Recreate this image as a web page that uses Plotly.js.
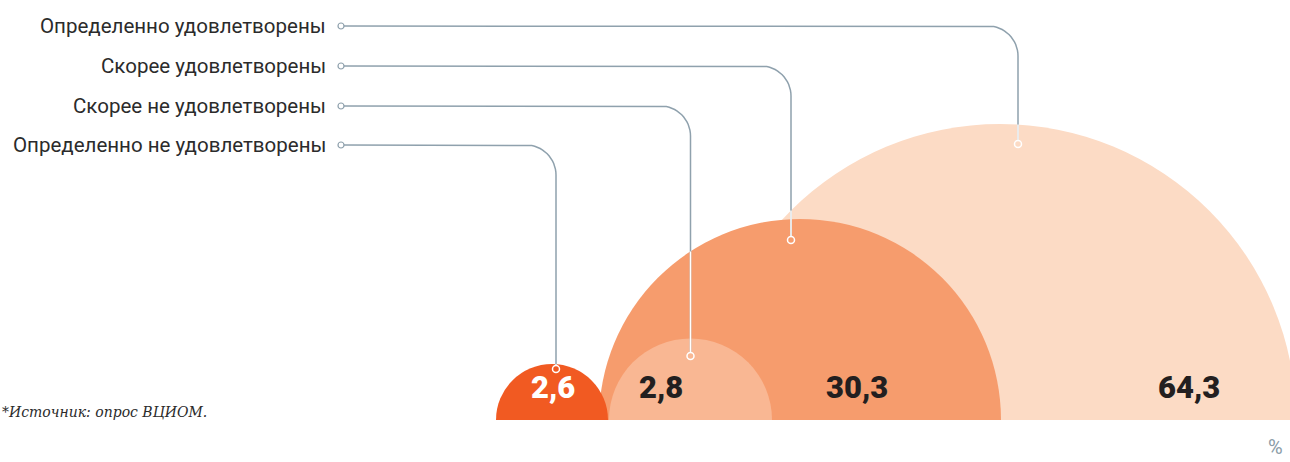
<!DOCTYPE html>
<html>
<head>
<meta charset="utf-8">
<script src="https://cdn.plot.ly/plotly-3.0.1.min.js"></script>
<style>
  html, body { margin: 0; padding: 0; background: #ffffff; }
  #chart { width: 1290px; height: 462px; }
</style>
</head>
<body>
<div id="chart"></div>
<script>
// ---------- DATA ----------
const categories = [
  "Определенно удовлетворены",
  "Скорее удовлетворены",
  "Скорее не удовлетворены",
  "Определенно не удовлетворены"
];
const values = [64.3, 30.3, 2.8, 2.6];
const sourceNote = "*Источник: опрос ВЦИОМ.";
const unitLabel = "%";

// ---------- GEOMETRY & STYLE (pixel-like data units, baseline at y = 0) ----------
const W = 1290, H = 462, BASE = 420;
const circleCx   = [1000, 800, 690.5, 552];
const circleR    = [296, 201, 81.5, 56];
const fills      = ["#FCDBC5", "#F69C6D", "#F9B793", "#F15A22"];
const numX       = [1189, 857, 661, 553];
const numColor   = ["#231F20", "#231F20", "#231F20", "#FFFFFF"];
const rowY       = [26, 66, 106, 145];          // label rows, px from top
const stemX      = [1018, 791, 690.5, 556];     // vertical leader x
const endY       = [144, 240, 356, 369];        // leader end points, px from top
const labelRight = 328, dotX = 341, cornerR = 30;
const grey = "#8FA1AD";

const up = py => BASE - py;   // convert px-from-top to axis units

// semicircle shapes (clipped by plot area at the baseline)
const shapes = values.map((v, i) => ({
  type: "circle", xref: "x", yref: "y", layer: "below",
  x0: circleCx[i] - circleR[i], x1: circleCx[i] + circleR[i],
  y0: -circleR[i], y1: circleR[i],
  fillcolor: fills[i], line: { width: 0 }
}));

// leader lines
const traces = [];
function heightAt(x) {
  let h = 0;
  for (let i = 0; i < circleCx.length; i++) {
    const dx = x - circleCx[i];
    if (Math.abs(dx) < circleR[i]) h = Math.max(h, Math.sqrt(circleR[i] ** 2 - dx * dx));
  }
  return h;
}
categories.forEach((c, i) => {
  const y0 = up(rowY[i]), vx = stemX[i], yEnd = up(endY[i]);
  const xs = [dotX + 3], ys = [y0];
  const ccx = vx - cornerR, ccy = y0 - cornerR;
  for (let k = 0; k <= 16; k++) {
    const t = Math.PI / 2 - (Math.PI / 2) * k / 16;
    xs.push(ccx + cornerR * Math.cos(t));
    ys.push(ccy + cornerR * Math.sin(t));
  }
  xs.push(vx); ys.push(yEnd + 3);
  traces.push({ x: xs, y: ys, mode: "lines", line: { color: grey, width: 1.5 },
    hoverinfo: "skip", showlegend: false });
  const h = heightAt(vx);
  traces.push({ x: [vx, vx], y: [Math.min(h, y0 - cornerR), yEnd + 3], mode: "lines",
    line: { color: "#FFFFFF", width: 1.5 }, hoverinfo: "skip", showlegend: false });
  traces.push({ x: [vx], y: [yEnd], mode: "markers",
    marker: { symbol: "circle-open", size: 7, color: "#FFFFFF", line: { width: 1.5, color: "#FFFFFF" } },
    hoverinfo: "skip", showlegend: false });
  traces.push({ x: [dotX], y: [y0], mode: "markers",
    marker: { symbol: "circle-open", size: 6, color: grey, line: { width: 1.2, color: grey } },
    hoverinfo: "skip", showlegend: false });
});

const annotations = [];
categories.forEach((c, i) => {
  annotations.push({ x: labelRight, y: up(rowY[i]), xref: "x", yref: "y", text: c,
    showarrow: false, xanchor: "right", yanchor: "middle",
    font: { family: "Roboto, 'Noto Sans', sans-serif", size: 20.5, color: "#2B2B2B" } });
  annotations.push({ x: numX[i], y: up(387), xref: "x", yref: "y",
    text: values[i].toFixed(1).replace(".", ","),
    showarrow: false, xanchor: "center", yanchor: "middle",
    font: { family: "Roboto, 'Noto Sans', sans-serif", size: 31, weight: 900, color: numColor[i] } });
});
annotations.push({ x: 0, y: up(412), xref: "x", yref: "y", text: "<i>" + sourceNote + "</i>",
  showarrow: false, xanchor: "left", yanchor: "middle",
  font: { family: "'DejaVu Serif', serif", size: 14, color: "#2B2B2B" } });
annotations.push({ x: 1266, y: -(447 - BASE) / BASE, xref: "x", yref: "paper", text: unitLabel,
  showarrow: false, xanchor: "left", yanchor: "middle",
  font: { family: "Roboto, sans-serif", size: 20, color: "#8A9BA7" } });

const layout = {
  width: W, height: H,
  margin: { l: 0, r: 0, t: 0, b: H - BASE, pad: 0 },
  paper_bgcolor: "#FFFFFF", plot_bgcolor: "#FFFFFF",
  xaxis: { range: [0, W], visible: false, fixedrange: true },
  yaxis: { range: [0, BASE], visible: false, fixedrange: true },
  shapes: shapes, annotations: annotations, showlegend: false
};

Plotly.newPlot("chart", traces, layout, { displayModeBar: false, staticPlot: true });
</script>
</body>
</html>
